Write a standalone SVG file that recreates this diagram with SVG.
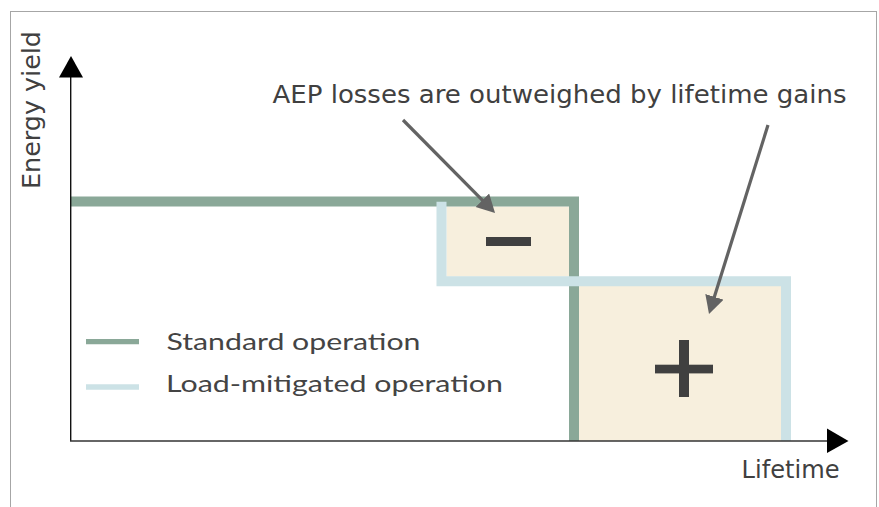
<svg xmlns="http://www.w3.org/2000/svg" width="879" height="507" viewBox="0 0 879 507">
  <style>
    .label { font-family: "DejaVu Sans", Verdana, sans-serif; fill: #404040; }
    .legend { font-family: "Lato", "Open Sans", sans-serif; fill: #444444; font-size: 24px; }
    .std { fill: none; stroke: #8aa898; stroke-width: 10; stroke-linejoin: miter; }
    .lm { fill: none; stroke: #cce2e6; stroke-width: 10; stroke-linejoin: miter; }
    .box { fill: #f7efdd; }
    .sign { fill: #404040; }
    .pointer { stroke: #636363; stroke-width: 3.2; fill: none; }
  </style>
  <defs>
    <marker id="head" markerUnits="userSpaceOnUse" markerWidth="20" markerHeight="20" refX="8" refY="9.5" orient="auto">
      <path d="M0,0 L18,9.5 L0,19 z" fill="#636363"/>
    </marker>
  </defs>
  <rect id="frame" x="10.5" y="11.5" width="866" height="520" fill="#ffffff" stroke="#a6a6a6" stroke-width="1"/>

  <g id="gain-areas">
    <rect id="loss-box" class="box" x="446.5" y="206.5" width="123" height="70"/>
    <rect id="gain-box" class="box" x="579" y="286" width="202" height="155"/>
  </g>

  <g id="series">
    <path id="standard" class="std" d="M70,201.5 H574 V441"/>
    <path id="mitigated" class="lm" d="M441.5,201.7 V281.3 H786 V441"/>
  </g>

  <g id="axes">
    <line x1="70.7" y1="76" x2="70.7" y2="441" stroke="#111" stroke-width="1.4"/>
    <polygon points="59,77.5 83,77.5 71,56" fill="#000"/>
    <line x1="70" y1="441" x2="828" y2="441" stroke="#333" stroke-width="1.4"/>
    <polygon points="827,428.5 827,453 848.5,441" fill="#000"/>
    <text class="label" transform="translate(40,189) rotate(-90)" font-size="24" textLength="158" lengthAdjust="spacingAndGlyphs">Energy yield</text>
    <text class="label" x="741.5" y="477.5" font-size="24.5" textLength="98" lengthAdjust="spacingAndGlyphs">Lifetime</text>
  </g>

  <g id="minus-sign">
    <rect class="sign" x="486" y="237" width="45" height="9"/>
  </g>
  <g id="plus-sign">
    <rect class="sign" x="655" y="364.7" width="58" height="8.7"/>
    <rect class="sign" x="679" y="340" width="10" height="57"/>
  </g>

  <g id="annotation">
    <text class="label" x="272.5" y="103" font-size="24" textLength="574" lengthAdjust="spacingAndGlyphs">AEP losses are outweighed by lifetime gains</text>
  </g>

  <g id="connectors">
    <line class="pointer" x1="403" y1="120" x2="488" y2="205.9" marker-end="url(#head)"/>
    <line class="pointer" x1="768" y1="125" x2="712" y2="304.5" marker-end="url(#head)"/>
  </g>

  <g id="legend">
    <line x1="86" y1="341.7" x2="139" y2="341.7" stroke="#8aa898" stroke-width="5.3"/>
    <line x1="86" y1="387" x2="139" y2="387" stroke="#cce2e6" stroke-width="5.3"/>
    <text class="legend" x="166.5" y="350" textLength="254" lengthAdjust="spacingAndGlyphs">Standard operation</text>
    <text class="legend" x="166" y="392" textLength="337" lengthAdjust="spacingAndGlyphs">Load-mitigated operation</text>
  </g>
</svg>
